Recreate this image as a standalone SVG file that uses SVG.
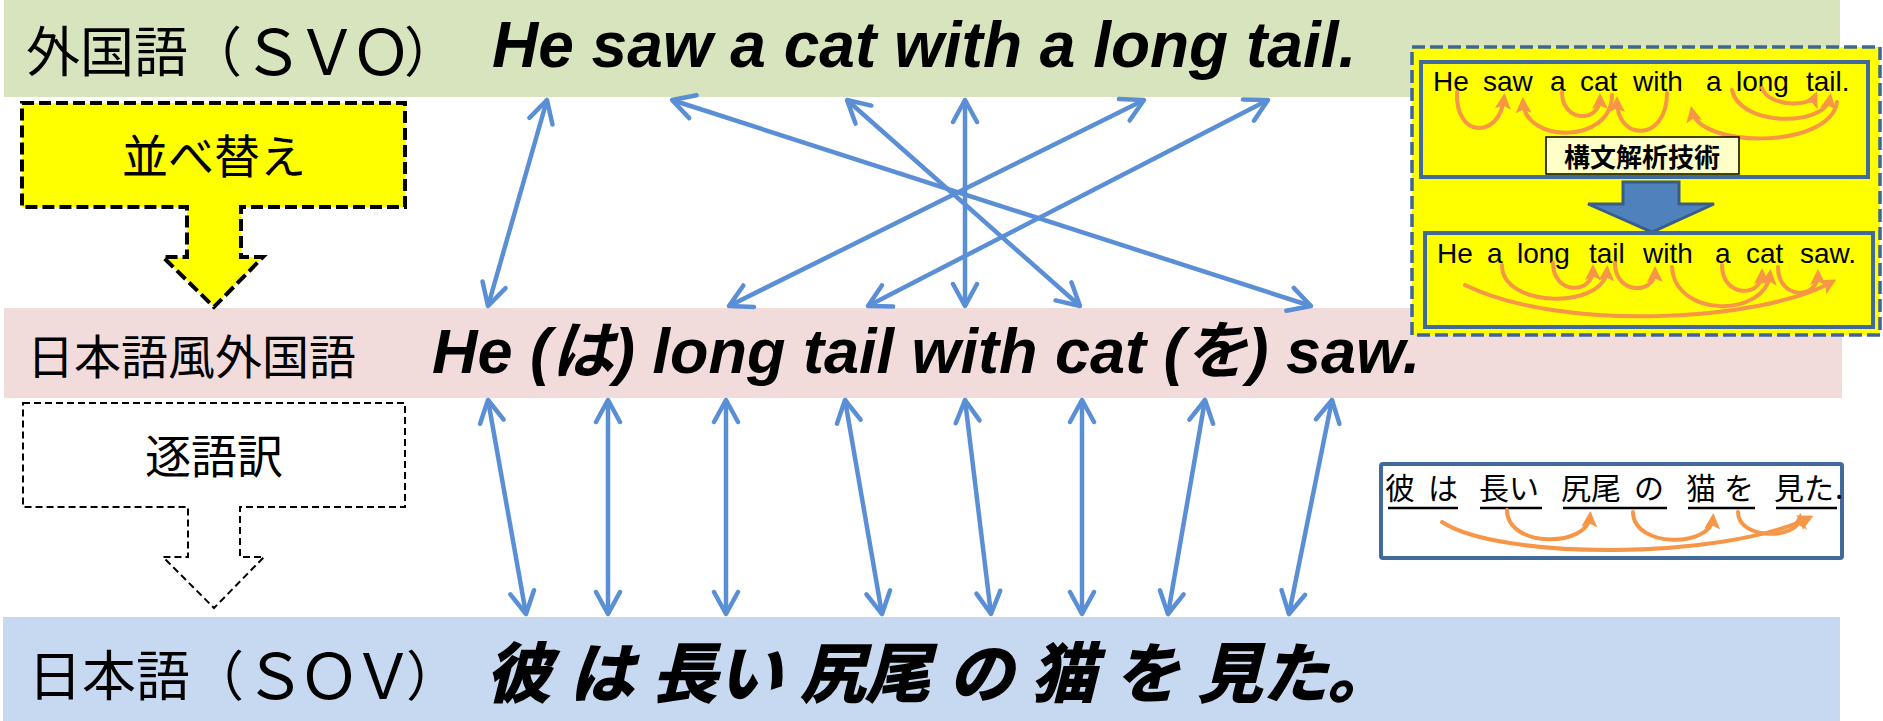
<svg xmlns="http://www.w3.org/2000/svg" width="1883" height="721" viewBox="0 0 1883 721">
<style>
.lbl{font-family:"Noto Sans CJK JP","Liberation Sans",sans-serif;fill:#000}
.big{font-size:62px;letter-spacing:-8px}
.en{font-family:"Liberation Sans","Noto Sans CJK JP",sans-serif;font-weight:bold;font-style:italic;fill:#000}
.sm{font-family:"Liberation Sans","Noto Sans CJK JP",sans-serif;font-size:28px;fill:#000}
.jp{font-family:"Noto Sans CJK JP",sans-serif;font-size:30px;fill:#000}
.conn{stroke:#5A8FD6;stroke-width:4.5;fill:none;marker-start:url(#ah);marker-end:url(#ah)}
.arc{stroke:#F79646;stroke-width:4;fill:none;stroke-linecap:round;marker-end:url(#oa)}
.ibox{fill:#FFFF00;stroke:#41699A;stroke-width:4}
.ul{stroke:#000;stroke-width:2.5}
</style>
<defs>
<marker id="ah" markerUnits="userSpaceOnUse" viewBox="-3 -3 28 32" refX="22" refY="13" markerWidth="28" markerHeight="32" orient="auto-start-reverse"><path d="M0,1 L22,13 L0,25" fill="none" stroke="#5A8FD6" stroke-width="4.5" stroke-linecap="round" stroke-linejoin="round"/></marker>
<marker id="oa" markerUnits="userSpaceOnUse" viewBox="0 0 16 16" refX="11" refY="8" markerWidth="16" markerHeight="16" orient="auto"><path d="M0,0 L16,8 L0,16 L3.5,8 Z" fill="#F79646"/></marker>
</defs>

<g id="band-foreign">
<rect x="4" y="0" width="1836" height="97" fill="#D7E4BD"/>
<text class="lbl" x="26" y="72" font-size="54">外国語（<tspan class="big" dy="3">ＳＶＯ</tspan><tspan dy="-3">）</tspan></text>
<text class="en" x="492" y="67" font-size="64">He saw a cat with a long tail.</text>
</g>

<g id="band-japlike">
<rect x="4" y="308" width="1838" height="90" fill="#F2DCDB"/>
<text class="lbl" x="27" y="374" font-size="47">日本語風外国語</text>
<text class="en" x="432" y="373" font-size="63">He (は) long tail with cat (を) saw.</text>
</g>

<g id="band-japanese">
<rect x="3" y="617" width="1837" height="104" fill="#C6D9F1"/>
<text class="lbl" x="28" y="696" font-size="54">日本語（<tspan class="big" dy="3">ＳＯＶ</tspan><tspan dy="-3">）</tspan></text>
<text class="en" x="486" y="697" font-size="65" font-weight="900" stroke="#000" stroke-width="1.5">彼 は 長い 尻尾 の 猫 を 見た。</text>
</g>

<g id="connectors">
<line class="conn" x1="547" y1="100" x2="488" y2="306"/>
<line class="conn" x1="672" y1="100" x2="1311" y2="306"/>
<line class="conn" x1="847" y1="100" x2="1080" y2="306"/>
<line class="conn" x1="965" y1="100" x2="965" y2="306"/>
<line class="conn" x1="1144" y1="100" x2="729" y2="306"/>
<line class="conn" x1="1268" y1="100" x2="868" y2="306"/>
<line class="conn" x1="488" y1="400" x2="526" y2="614"/>
<line class="conn" x1="608" y1="400" x2="608" y2="614"/>
<line class="conn" x1="726" y1="400" x2="726" y2="614"/>
<line class="conn" x1="845" y1="400" x2="882" y2="614"/>
<line class="conn" x1="965" y1="400" x2="991" y2="614"/>
<line class="conn" x1="1082" y1="400" x2="1082" y2="614"/>
<line class="conn" x1="1205" y1="400" x2="1168" y2="614"/>
<line class="conn" x1="1332" y1="400" x2="1289" y2="614"/>
</g>

<g id="reorder">
<path d="M22,103 H405 V207 H241 V257 H263 L214,307 L163,257 H187 V207 H22 Z" fill="#FFFF00" stroke="#000" stroke-width="4" stroke-dasharray="12 5"/>
<text class="lbl" x="214" y="173" font-size="46" text-anchor="middle">並べ替え</text>
</g>

<g id="literal">
<path d="M23,403 H405 V507 H240 V557 H264 L214,608 L163,557 H188 V507 H23 Z" fill="#FFFFFF" stroke="#000" stroke-width="2" stroke-dasharray="7 4"/>
<text class="lbl" x="214" y="473" font-size="46" text-anchor="middle">逐語訳</text>
</g>

<g id="parsing-panel">
<rect x="1412" y="47" width="468" height="288" fill="#FFFF00" stroke="#3F6598" stroke-width="3.5" stroke-dasharray="13 5"/>
<rect class="ibox" x="1421" y="62" width="447" height="115"/>
<text class="sm" y="91"><tspan x="1433">He</tspan><tspan x="1483">saw</tspan><tspan x="1550">a</tspan><tspan x="1580">cat</tspan><tspan x="1633">with</tspan><tspan x="1706">a</tspan><tspan x="1736">long</tspan><tspan x="1806">tail.</tspan></text>
<path class="arc" d="M1457,92 C1455,139 1500,139 1504,98"/>
<path class="arc" d="M1612,95 C1612,144 1525,144 1523,102"/>
<path class="arc" d="M1562,92 C1562,123 1600,123 1600,98"/>
<path class="arc" d="M1667,93 C1667,142 1617,142 1617,101"/>
<path class="arc" d="M1837,102 C1830,149 1700,149 1692,111"/>
<path class="arc" d="M1732,90 C1740,127 1825,127 1830,98"/>
<path class="arc" d="M1762,88 C1768,107 1810,107 1815,96"/>
<rect x="1546" y="137" width="193" height="37" fill="#FFFFC8" stroke="#000" stroke-width="1.5"/>
<text class="lbl" x="1642" y="167" font-size="26" font-weight="bold" text-anchor="middle">構文解析技術</text>
<path d="M1623,182 H1679 V204 H1714 L1652,232 L1588,204 H1623 Z" fill="#4F81BD" stroke="#385D8A" stroke-width="3"/>
<rect class="ibox" x="1425" y="233" width="448" height="94"/>
<text class="sm" y="263"><tspan x="1437">He</tspan><tspan x="1487">a</tspan><tspan x="1517">long</tspan><tspan x="1589">tail</tspan><tspan x="1643">with</tspan><tspan x="1715">a</tspan><tspan x="1746">cat</tspan><tspan x="1800">saw.</tspan></text>
<path class="arc" d="M1465,285 C1560,332 1760,322 1832,282"/>
<path class="arc" d="M1502,265 C1502,309 1605,309 1607,270"/>
<path class="arc" d="M1553,263 C1553,295 1593,295 1593,269"/>
<path class="arc" d="M1615,263 C1615,295 1655,295 1655,271"/>
<path class="arc" d="M1672,267 C1675,318 1765,318 1770,274"/>
<path class="arc" d="M1722,265 C1722,298 1762,298 1762,273"/>
<path class="arc" d="M1778,267 C1778,300 1818,300 1818,274"/>
</g>

<g id="japanese-structure">
<rect x="1381" y="464" width="461" height="94" rx="2" fill="#FFFFFF" stroke="#41699A" stroke-width="4"/>
<text class="jp" y="499"><tspan x="1385">彼</tspan><tspan x="1428">は</tspan><tspan x="1479">長い</tspan><tspan x="1561">尻尾</tspan><tspan x="1634">の</tspan><tspan x="1686">猫</tspan><tspan x="1724">を</tspan><tspan x="1774">見た</tspan><tspan x="1835">.</tspan></text>
<line class="ul" x1="1388" y1="508" x2="1458" y2="508"/>
<line class="ul" x1="1480" y1="508" x2="1542" y2="508"/>
<line class="ul" x1="1563" y1="508" x2="1667" y2="508"/>
<line class="ul" x1="1688" y1="508" x2="1755" y2="508"/>
<line class="ul" x1="1776" y1="508" x2="1837" y2="508"/>
<path class="arc" d="M1442,522 C1500,560 1720,560 1809,518"/>
<path class="arc" d="M1507,510 C1507,548 1588,548 1590,516"/>
<path class="arc" d="M1633,512 C1633,548 1711,548 1713,518"/>
<path class="arc" d="M1738,512 C1738,540 1798,540 1800,518"/>
</g>
</svg>
